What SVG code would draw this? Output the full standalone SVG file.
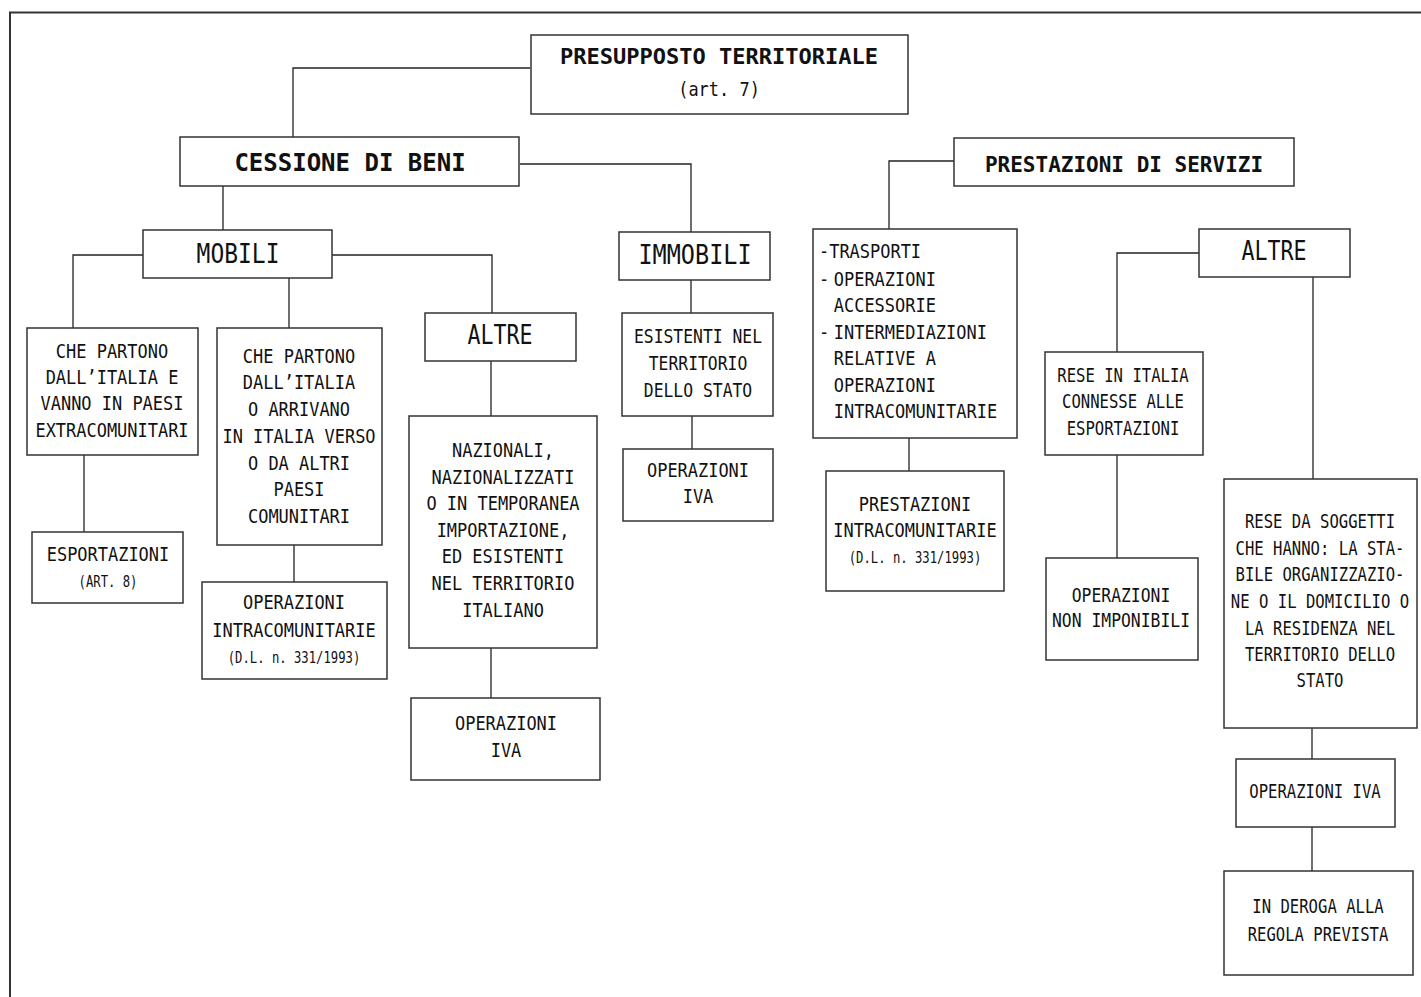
<svg xmlns="http://www.w3.org/2000/svg" width="1421" height="997" viewBox="0 0 1421 997">
  <style>
    .box { fill: #fff; stroke: #333; stroke-width: 1.5; }
    .wire { fill: none; stroke: #222; stroke-width: 1.3; }
    .frame { fill: none; stroke: #333; stroke-width: 2; }
    text { font-family: "DejaVu Sans Mono", "Liberation Mono", monospace; fill: #111; text-anchor: middle; }
    .t { font-size: 19.5px; }
    .tl { font-size: 19.5px; text-anchor: start; }
    .s { font-size: 15.5px; }
    .big { font-size: 27px; }
    .h1 { font-size: 22px; font-weight: bold; }
    .h2 { font-size: 24px; font-weight: bold; }
    .h3 { font-size: 21px; font-weight: bold; }
  </style>

  <!-- page frame -->
  <path class="frame" d="M10,997 V12.5 H1421"/>

  <!-- connectors -->
  <g id="connectors">
    <path class="wire" d="M530,68 H293 V137"/>
    <path class="wire" d="M223,186 V230"/>
    <path class="wire" d="M143,255 H73 V328"/>
    <path class="wire" d="M289,278 V328"/>
    <path class="wire" d="M332,255 H492 V313"/>
    <path class="wire" d="M84,455 V532"/>
    <path class="wire" d="M294,545 V582"/>
    <path class="wire" d="M491,361 V416"/>
    <path class="wire" d="M491,648 V698"/>
    <path class="wire" d="M520,164 H691 V232"/>
    <path class="wire" d="M691,280 V313"/>
    <path class="wire" d="M692,416 V449"/>
    <path class="wire" d="M954,161 H889 V229"/>
    <path class="wire" d="M909,438 V471"/>
    <path class="wire" d="M1199,253 H1117 V352"/>
    <path class="wire" d="M1117,455 V558"/>
    <path class="wire" d="M1313,277 V479"/>
    <path class="wire" d="M1312,728 V759"/>
    <path class="wire" d="M1312,827 V871"/>
  </g>

  <g id="presupposto">
    <rect class="box" x="531" y="35" width="377" height="79"/>
    <text class="h1" x="719" y="64">PRESUPPOSTO TERRITORIALE</text>
    <g transform="translate(719,0) scale(0.87,1)">
      <text class="t" x="0" y="96">(art. 7)</text>
    </g>
  </g>

  <g id="cessione">
    <rect class="box" x="180" y="137" width="339" height="49"/>
    <text class="h2" x="350" y="171">CESSIONE DI BENI</text>
  </g>

  <g id="prestazioni">
    <rect class="box" x="954" y="138" width="340" height="48"/>
    <text class="h3" x="1124" y="172">PRESTAZIONI DI SERVIZI</text>
  </g>

  <g id="mobili">
    <rect class="box" x="143" y="230" width="189" height="48"/>
    <g transform="translate(238,0) scale(0.85,1)">
      <text class="big" x="0" y="263">MOBILI</text>
    </g>
  </g>

  <g id="immobili">
    <rect class="box" x="619" y="232" width="151" height="48"/>
    <g transform="translate(695,0) scale(0.87,1)">
      <text class="big" x="0" y="264">IMMOBILI</text>
    </g>
  </g>

  <g id="altre-beni">
    <rect class="box" x="425" y="313" width="151" height="48"/>
    <g transform="translate(500,0) scale(0.8,1)">
      <text class="big" x="0" y="344">ALTRE</text>
    </g>
  </g>

  <g id="altre-servizi">
    <rect class="box" x="1199" y="229" width="151" height="48"/>
    <g transform="translate(1274,0) scale(0.8,1)">
      <text class="big" x="0" y="260">ALTRE</text>
    </g>
  </g>

  <g id="extracomunitari">
    <rect class="box" x="27" y="328" width="171" height="127"/>
    <g transform="translate(112,0) scale(0.87,1)">
      <text class="t" x="0" y="358">CHE PARTONO</text>
      <text class="t" x="0" y="384">DALL’ITALIA E</text>
      <text class="t" x="0" y="410">VANNO IN PAESI</text>
      <text class="t" x="0" y="437">EXTRACOMUNITARI</text>
    </g>
  </g>

  <g id="esportazioni">
    <rect class="box" x="32" y="532" width="151" height="71"/>
    <g transform="translate(108,0) scale(0.87,1)">
      <text class="t" x="0" y="561">ESPORTAZIONI</text>
    </g>
    <g transform="translate(108,0) scale(0.79,1)">
      <text class="s" x="0" y="587">(ART. 8)</text>
    </g>
  </g>

  <g id="comunitari">
    <rect class="box" x="217" y="328" width="165" height="217"/>
    <g transform="translate(299,0) scale(0.87,1)">
      <text class="t" x="0" y="363">CHE PARTONO</text>
      <text class="t" x="0" y="389">DALL’ITALIA</text>
      <text class="t" x="0" y="416">O ARRIVANO</text>
      <text class="t" x="0" y="443">IN ITALIA VERSO</text>
      <text class="t" x="0" y="470">O DA ALTRI</text>
      <text class="t" x="0" y="496">PAESI</text>
      <text class="t" x="0" y="523">COMUNITARI</text>
    </g>
  </g>

  <g id="operazioni-intracomunitarie">
    <rect class="box" x="202" y="582" width="185" height="97"/>
    <g transform="translate(294,0) scale(0.87,1)">
      <text class="t" x="0" y="609">OPERAZIONI</text>
      <text class="t" x="0" y="637">INTRACOMUNITARIE</text>
    </g>
    <g transform="translate(294,0) scale(0.79,1)">
      <text class="s" x="0" y="663">(D.L. n. 331/1993)</text>
    </g>
  </g>

  <g id="nazionali">
    <rect class="box" x="409" y="416" width="188" height="232"/>
    <g transform="translate(503,0) scale(0.87,1)">
      <text class="t" x="0" y="457">NAZIONALI,</text>
      <text class="t" x="0" y="484">NAZIONALIZZATI</text>
      <text class="t" x="0" y="510">O IN TEMPORANEA</text>
      <text class="t" x="0" y="537">IMPORTAZIONE,</text>
      <text class="t" x="0" y="563">ED ESISTENTI</text>
      <text class="t" x="0" y="590">NEL TERRITORIO</text>
      <text class="t" x="0" y="617">ITALIANO</text>
    </g>
  </g>

  <g id="operazioni-iva-mobili">
    <rect class="box" x="411" y="698" width="189" height="82"/>
    <g transform="translate(506,0) scale(0.87,1)">
      <text class="t" x="0" y="730">OPERAZIONI</text>
      <text class="t" x="0" y="757">IVA</text>
    </g>
  </g>

  <g id="esistenti">
    <rect class="box" x="622" y="313" width="151" height="103"/>
    <g transform="translate(698,0) scale(0.84,1)">
      <text class="t" x="0" y="343">ESISTENTI NEL</text>
      <text class="t" x="0" y="370">TERRITORIO</text>
      <text class="t" x="0" y="397">DELLO STATO</text>
    </g>
  </g>

  <g id="operazioni-iva-immobili">
    <rect class="box" x="623" y="449" width="150" height="72"/>
    <g transform="translate(698,0) scale(0.87,1)">
      <text class="t" x="0" y="477">OPERAZIONI</text>
      <text class="t" x="0" y="503">IVA</text>
    </g>
  </g>

  <g id="trasporti">
    <rect class="box" x="813" y="229" width="204" height="209"/>
    <g transform="translate(819,0) scale(0.87,1)">
      <text class="tl" x="0" y="258">-TRASPORTI</text>
      <text class="tl" x="0" y="286">-</text>
      <text class="tl" x="17" y="286">OPERAZIONI</text>
      <text class="tl" x="17" y="312">ACCESSORIE</text>
      <text class="tl" x="0" y="339">-</text>
      <text class="tl" x="17" y="339">INTERMEDIAZIONI</text>
      <text class="tl" x="17" y="365">RELATIVE A</text>
      <text class="tl" x="17" y="392">OPERAZIONI</text>
      <text class="tl" x="17" y="418">INTRACOMUNITARIE</text>
    </g>
  </g>

  <g id="prestazioni-intracomunitarie">
    <rect class="box" x="826" y="471" width="178" height="120"/>
    <g transform="translate(915,0) scale(0.87,1)">
      <text class="t" x="0" y="511">PRESTAZIONI</text>
      <text class="t" x="0" y="537">INTRACOMUNITARIE</text>
    </g>
    <g transform="translate(915,0) scale(0.79,1)">
      <text class="s" x="0" y="563">(D.L. n. 331/1993)</text>
    </g>
  </g>

  <g id="rese-italia">
    <rect class="box" x="1045" y="352" width="158" height="103"/>
    <g transform="translate(1123,0) scale(0.8,1)">
      <text class="t" x="0" y="382">RESE IN ITALIA</text>
      <text class="t" x="0" y="408">CONNESSE ALLE</text>
      <text class="t" x="0" y="435">ESPORTAZIONI</text>
    </g>
  </g>

  <g id="non-imponibili">
    <rect class="box" x="1046" y="558" width="152" height="102"/>
    <g transform="translate(1121,0) scale(0.84,1)">
      <text class="t" x="0" y="602">OPERAZIONI</text>
      <text class="t" x="0" y="627">NON IMPONIBILI</text>
    </g>
  </g>

  <g id="rese-soggetti">
    <rect class="box" x="1224" y="479" width="193" height="249"/>
    <g transform="translate(1320,0) scale(0.8,1)">
      <text class="t" x="0" y="528">RESE DA SOGGETTI</text>
      <text class="t" x="0" y="555">CHE HANNO: LA STA-</text>
      <text class="t" x="0" y="581">BILE ORGANIZZAZIO-</text>
      <text class="t" x="0" y="608">NE O IL DOMICILIO O</text>
      <text class="t" x="0" y="635">LA RESIDENZA NEL</text>
      <text class="t" x="0" y="661">TERRITORIO DELLO</text>
      <text class="t" x="0" y="687">STATO</text>
    </g>
  </g>

  <g id="operazioni-iva-servizi">
    <rect class="box" x="1236" y="759" width="159" height="68"/>
    <g transform="translate(1315,0) scale(0.8,1)">
      <text class="t" x="0" y="798">OPERAZIONI IVA</text>
    </g>
  </g>

  <g id="in-deroga">
    <rect class="box" x="1224" y="871" width="189" height="104"/>
    <g transform="translate(1318,0) scale(0.8,1)">
      <text class="t" x="0" y="913">IN DEROGA ALLA</text>
      <text class="t" x="0" y="941">REGOLA PREVISTA</text>
    </g>
  </g>
</svg>
